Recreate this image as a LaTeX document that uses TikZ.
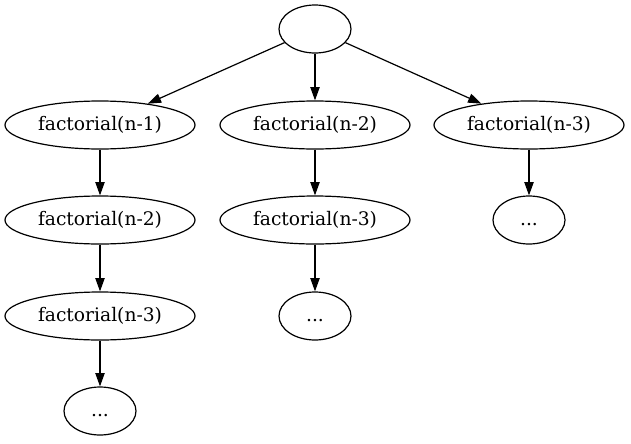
\documentclass[tikz,border=0pt]{standalone}
\usepackage{fontspec}
\setmainfont{DejaVu Serif}
\usetikzlibrary{shapes.geometric,arrows.meta}
\begin{document}
\begin{tikzpicture}[x=0.75pt,y=-0.75pt,
  nd/.style={ellipse,draw,line width=0.9pt,inner sep=0pt,minimum height=36pt,minimum width=54pt,text height=10.6pt,text depth=1.85pt,font=\fontsize{14pt}{16pt}\selectfont},
  wide/.style={nd,minimum width=142.5pt},
  ed/.style={-{Triangle[length=10pt,width=7pt]},line width=0.9pt}]
\useasboundingbox (0,0) rectangle (631,443);
\node[nd] (r) at (315,29) {};
\node[wide] (a1) at (100,125) {factorial(n-1)};
\node[wide] (b1) at (315,125) {factorial(n-2)};
\node[wide] (c1) at (529,125) {factorial(n-3)};
\node[wide] (a2) at (100,220) {factorial(n-2)};
\node[wide] (b2) at (315,220) {factorial(n-3)};
\node[nd] (c2) at (529,220) {...};
\node[wide] (a3) at (100,316) {factorial(n-3)};
\node[nd] (b3) at (315,316) {...};
\node[nd] (a4) at (100,411) {...};
\draw[ed] (r) -- (a1);
\draw[ed] (r) -- (b1);
\draw[ed] (r) -- (c1);
\draw[ed] (a1) -- (a2);
\draw[ed] (a2) -- (a3);
\draw[ed] (a3) -- (a4);
\draw[ed] (b1) -- (b2);
\draw[ed] (b2) -- (b3);
\draw[ed] (c1) -- (c2);
\end{tikzpicture}
\end{document}
